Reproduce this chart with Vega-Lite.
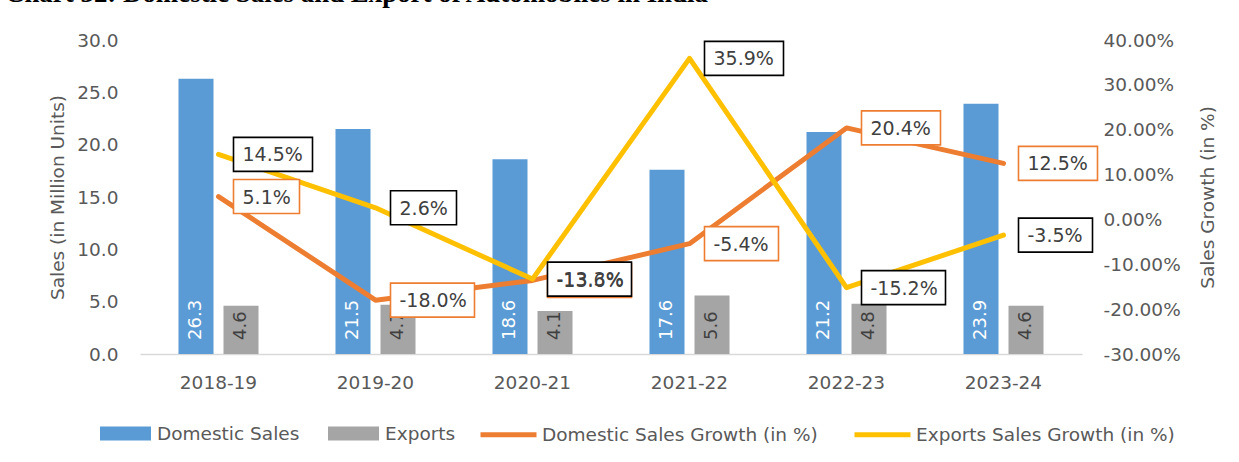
{
  "$schema": "https://vega.github.io/schema/vega-lite/v6.json",
  "width": 942,
  "height": 314,
  "autosize": {"type": "none"},
  "padding": {"left": 140, "top": 40, "right": 157, "bottom": 108},
  "background": "white",
  "title": {
    "text": "Chart 32: Domestic Sales and Export of Automobiles in India",
    "anchor": "start",
    "frame": "group",
    "font": "Liberation Serif",
    "fontSize": 26.9,
    "fontWeight": "bold",
    "color": "black",
    "baseline": "alphabetic",
    "dx": -135,
    "dy": 18,
    "offset": 20
  },
  "config": {
    "locale": {"number": {"decimal": ".", "thousands": ",", "grouping": [3], "currency": ["$", ""], "minus": "-"}},
    "view": {"stroke": null},
    "font": "DejaVu Sans"
  },
  "datasets": {
    "sales": [
      {"year": "2018-19", "series": "Domestic Sales", "value": 26.3},
      {"year": "2019-20", "series": "Domestic Sales", "value": 21.5},
      {"year": "2020-21", "series": "Domestic Sales", "value": 18.6},
      {"year": "2021-22", "series": "Domestic Sales", "value": 17.6},
      {"year": "2022-23", "series": "Domestic Sales", "value": 21.2},
      {"year": "2023-24", "series": "Domestic Sales", "value": 23.9},
      {"year": "2018-19", "series": "Exports", "value": 4.6},
      {"year": "2019-20", "series": "Exports", "value": 4.7},
      {"year": "2020-21", "series": "Exports", "value": 4.1},
      {"year": "2021-22", "series": "Exports", "value": 5.6},
      {"year": "2022-23", "series": "Exports", "value": 4.8},
      {"year": "2023-24", "series": "Exports", "value": 4.6}
    ],
    "growth": [
      {"year": "2018-19", "series": "Domestic Sales Growth (in %)", "value": 0.051},
      {"year": "2019-20", "series": "Domestic Sales Growth (in %)", "value": -0.180},
      {"year": "2020-21", "series": "Domestic Sales Growth (in %)", "value": -0.136},
      {"year": "2021-22", "series": "Domestic Sales Growth (in %)", "value": -0.054},
      {"year": "2022-23", "series": "Domestic Sales Growth (in %)", "value": 0.204},
      {"year": "2023-24", "series": "Domestic Sales Growth (in %)", "value": 0.125},
      {"year": "2018-19", "series": "Exports Sales Growth (in %)", "value": 0.145},
      {"year": "2019-20", "series": "Exports Sales Growth (in %)", "value": 0.026},
      {"year": "2020-21", "series": "Exports Sales Growth (in %)", "value": -0.133},
      {"year": "2021-22", "series": "Exports Sales Growth (in %)", "value": 0.359},
      {"year": "2022-23", "series": "Exports Sales Growth (in %)", "value": -0.152},
      {"year": "2023-24", "series": "Exports Sales Growth (in %)", "value": -0.035}
    ]
  },
  "encoding": {
    "x": {
      "field": "year",
      "type": "nominal",
      "sort": null,
      "scale": {"paddingInner": 0, "paddingOuter": 0},
      "axis": {
        "title": null,
        "labelAngle": 0,
        "labelFont": "DejaVu Sans",
        "labelFontSize": 18.5,
        "labelColor": "#595959",
        "labelPadding": 19,
        "ticks": false,
        "tickSize": 0,
        "domainColor": "#D9D9D9",
        "domainWidth": 1.5,
        "grid": false
      }
    }
  },
  "layer": [
    {
      "data": {"name": "sales"},
      "encoding": {
        "xOffset": {
          "field": "series",
          "type": "nominal",
          "sort": ["Domestic Sales", "Exports"],
          "scale": {"paddingInner": 0.222, "paddingOuter": 0.855}
        }
      },
      "layer": [
        {
          "mark": {"type": "bar"},
          "encoding": {
            "y": {
              "field": "value",
              "type": "quantitative",
              "scale": {"domain": [0, 30], "nice": false},
              "axis": {
                "title": "Sales (in Million Units)",
                "values": [0, 5, 10, 15, 20, 25, 30],
                "format": ".1f",
                "grid": false,
                "domain": false,
                "ticks": false,
                "tickSize": 0,
                "labelPadding": 22,
                "labelFont": "DejaVu Sans",
                "labelFontSize": 18.5,
                "labelColor": "#595959",
                "titleFont": "DejaVu Sans",
                "titleFontSize": 18.5,
                "titleFontWeight": "normal",
                "titleColor": "#595959",
                "titleX": -83,
                "titleY": 157,
                "titleAngle": -90,
                "titleAlign": "center",
                "titleBaseline": "middle"
              }
            },
            "fill": {
              "field": "series",
              "type": "nominal",
              "scale": {"domain": ["Domestic Sales", "Exports"], "range": ["#5B9BD5", "#A5A5A5"]},
              "legend": {
                "orient": "none",
                "legendX": -40,
                "legendY": 368,
                "direction": "horizontal",
                "title": null,
                "padding": 0,
                "symbolType": "M-1,-0.275H1V0.275H-1Z",
                "symbolSize": 2601,
                "symbolStrokeWidth": 0,
                "labelOffset": 6,
                "columnPadding": 28,
                "labelLimit": 500,
                "labelFont": "DejaVu Sans",
                "labelFontSize": 18.5,
                "labelColor": "#595959"
              }
            }
          }
        },
        {
          "mark": {"type": "text", "angle": 270, "align": "left", "baseline": "middle", "dx": 14, "font": "DejaVu Sans", "fontSize": 18},
          "encoding": {
            "y": {"datum": 0, "type": "quantitative"},
            "text": {"field": "value", "type": "quantitative", "format": ".1f"},
            "color": {"condition": {"test": "datum.series == 'Exports'", "value": "#404040"}, "value": "white"}
          }
        }
      ]
    },
    {
      "data": {"name": "growth"},
      "encoding": {
        "y": {
          "field": "value",
          "type": "quantitative",
          "scale": {"domain": [-0.3, 0.4], "nice": false},
          "axis": {
            "orient": "right",
            "title": "Sales Growth (in %)",
            "values": [-0.3, -0.2, -0.1, 0, 0.1, 0.2, 0.3, 0.4],
            "format": ".2%",
            "grid": false,
            "domain": false,
            "ticks": false,
            "tickSize": 0,
            "labelPadding": 21,
            "labelFont": "DejaVu Sans",
            "labelFontSize": 18.5,
            "labelColor": "#595959",
            "titleFont": "DejaVu Sans",
            "titleFontSize": 18.5,
            "titleFontWeight": "normal",
            "titleColor": "#595959",
            "titleX": 125,
            "titleY": 157,
            "titleAngle": -90,
            "titleAlign": "center",
            "titleBaseline": "middle"
          }
        }
      },
      "layer": [
        {
          "mark": {"type": "line", "strokeWidth": 5, "strokeJoin": "round", "strokeCap": "round"},
          "encoding": {
            "stroke": {
              "field": "series",
              "type": "nominal",
              "scale": {"domain": ["Domestic Sales Growth (in %)", "Exports Sales Growth (in %)"], "range": ["#ED7D31", "#FFC000"]},
              "legend": {
                "orient": "none",
                "legendX": 338,
                "legendY": 364,
                "direction": "horizontal",
                "title": null,
                "padding": 0,
                "symbolType": "stroke",
                "symbolSize": 3136,
                "symbolStrokeWidth": 5,
                "labelOffset": 3,
                "columnPadding": 26,
                "labelLimit": 500,
                "labelFont": "DejaVu Sans",
                "labelFontSize": 18.5,
                "labelColor": "#595959"
              }
            }
          }
        },
        {
          "mark": {"type": "point", "filled": true, "fill": "white", "strokeWidth": 1.6, "opacity": 1, "size": 10000},
          "encoding": {
            "shape": {
              "condition": [
                {"test": "datum.value >= 0 && datum.value < 0.1", "value": "M0.3,-0.34H1.62V0.34H0.3Z"},
                {"test": "datum.value < 0 && datum.value > -0.1", "value": "M0.3,-0.34H1.78V0.34H0.3Z"},
                {"test": "datum.value >= 0.1", "value": "M0.3,-0.34H1.88V0.34H0.3Z"}
              ],
              "value": "M0.3,-0.34H1.98V0.34H0.3Z"
            },
            "stroke": {"condition": {"test": "datum.series == 'Exports Sales Growth (in %)'", "value": "#000000"}, "value": "#ED7D31"}
          }
        },
        {
          "mark": {"type": "text", "align": "left", "baseline": "middle", "dx": 24, "dy": 1, "font": "DejaVu Sans", "fontSize": 19, "color": "#404040"},
          "encoding": {
            "text": {"field": "value", "type": "quantitative", "format": ".1%"}
          }
        }
      ]
    }
  ],
  "resolve": {"scale": {"y": "independent"}}
}
